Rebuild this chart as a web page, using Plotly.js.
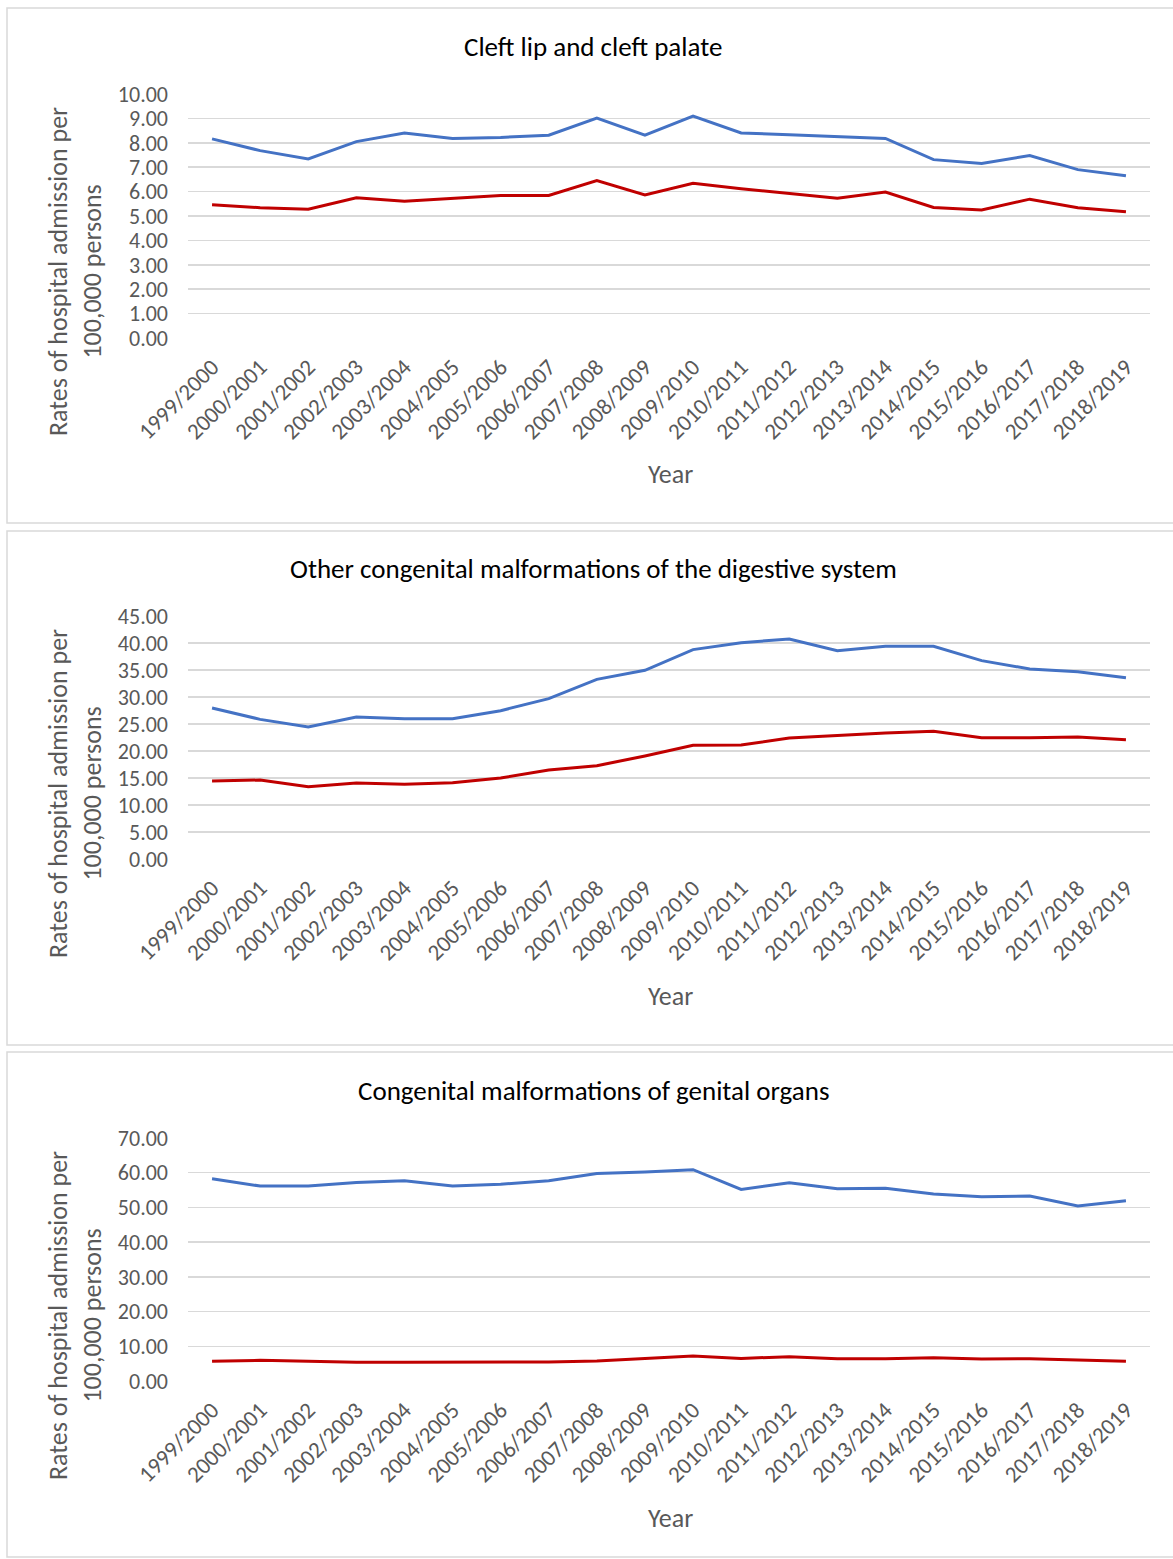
<!DOCTYPE html>
<html>
<head>
<meta charset="utf-8">
<script src="https://cdn.plot.ly/plotly-3.0.1.min.js"></script>
<style>
  html, body { margin: 0; padding: 0; background: #fff; }
  #chart { width: 1173px; height: 1559px; }
</style>
</head>
<body>
<div id="chart"></div>
<script>
// Financial years on the category axis
const years = [
  "1999/2000", "2000/2001", "2001/2002", "2002/2003", "2003/2004",
  "2004/2005", "2005/2006", "2006/2007", "2007/2008", "2008/2009",
  "2009/2010", "2010/2011", "2011/2012", "2012/2013", "2013/2014",
  "2014/2015", "2015/2016", "2016/2017", "2017/2018", "2018/2019"
];

// Panel titles
const panelTitles = [
  "Cleft lip and cleft palate",
  "Other congenital malformations of the digestive system",
  "Congenital malformations of genital organs"
];

// Admission rates per 100,000 persons
const cleftBlue = [8.16, 7.68, 7.34, 8.05, 8.40, 8.18, 8.22, 8.31, 9.01, 8.31,
                   9.09, 8.40, 8.33, 8.25, 8.18, 7.31, 7.15, 7.48, 6.90, 6.65];
const cleftRed  = [5.46, 5.34, 5.28, 5.75, 5.60, 5.71, 5.84, 5.84, 6.45, 5.86,
                   6.34, 6.12, 5.93, 5.73, 5.98, 5.35, 5.25, 5.69, 5.34, 5.17];

const digestiveBlue = [27.96, 25.86, 24.44, 26.30, 25.99, 25.99, 27.47, 29.69, 33.27, 34.94,
                       38.77, 40.06, 40.74, 38.58, 39.38, 39.38, 36.73, 35.19, 34.69, 33.58];
const digestiveRed  = [14.44, 14.63, 13.40, 14.07, 13.83, 14.14, 15.00, 16.48, 17.28, 19.07,
                       21.05, 21.11, 22.41, 22.90, 23.33, 23.64, 22.47, 22.47, 22.59, 22.10];

const genitalBlue = [58.27, 56.15, 56.15, 57.20, 57.70, 56.15, 56.70, 57.70, 59.80, 60.20,
                     60.87, 55.20, 57.10, 55.40, 55.50, 53.85, 53.10, 53.30, 50.40, 51.90];
const genitalRed  = [5.67, 5.96, 5.67, 5.38, 5.38, 5.38, 5.58, 5.48, 5.77, 6.44,
                     7.20, 6.50, 7.00, 6.44, 6.44, 6.70, 6.35, 6.44, 6.15, 5.67];

// Value-axis settings per panel
const yMax  = [10, 45, 70];
const yStep = [1, 5, 10];

const W = 1173, H = 1559;
const px = x => x / W;
const py = y => 1 - y / H;

const BLUE = "#4472C4";
const RED = "#C00000";
const GREY_TEXT = "#595959";
const FONT = "Carlito, Lato, 'Liberation Sans', sans-serif";

// Pixel geometry of the three stacked panels
const panels = [
  { boxTop: 8,    boxBottom: 523,  plotTop: 94,   plotBottom: 338,  title: 46,   year: 474,  ymid: 272 },
  { boxTop: 531,  boxBottom: 1045, plotTop: 616,  plotBottom: 859,  title: 568,  year: 996,  ymid: 794 },
  { boxTop: 1052, boxBottom: 1557, plotTop: 1138, plotBottom: 1381, title: 1090, year: 1518, ymid: 1316 }
];
const plotLeft = 188, plotRight = 1150;

const seriesSets = [
  [cleftBlue, cleftRed],
  [digestiveBlue, digestiveRed],
  [genitalBlue, genitalRed]
];

const data = [];
const layout = {
  width: W, height: H,
  margin: { l: 0, r: 0, t: 0, b: 0 },
  paper_bgcolor: "#fff",
  plot_bgcolor: "#fff",
  showlegend: false,
  font: { family: FONT, color: GREY_TEXT, size: 22 },
  shapes: [],
  annotations: []
};

panels.forEach((p, i) => {
  const n = i + 1;
  const xa = n === 1 ? "x" : "x" + n;
  const ya = n === 1 ? "y" : "y" + n;
  const [blue, red] = seriesSets[i];

  data.push({ x: years, y: blue, xaxis: xa, yaxis: ya, type: "scatter", mode: "lines",
              line: { color: BLUE, width: 3 }, hoverinfo: "skip" });
  data.push({ x: years, y: red, xaxis: xa, yaxis: ya, type: "scatter", mode: "lines",
              line: { color: RED, width: 3 }, hoverinfo: "skip" });

  const xKey = n === 1 ? "xaxis" : "xaxis" + n;
  const yKey = n === 1 ? "yaxis" : "yaxis" + n;

  layout[xKey] = {
    domain: [px(plotLeft), px(plotRight)],
    anchor: ya,
    type: "category",
    range: [-0.5, years.length - 0.5],
    showgrid: false,
    zeroline: false,
    showline: false,
    ticks: "",
    tickangle: -45,
    ticklabelstandoff: 10,
    tickfont: { family: FONT, size: 23, color: GREY_TEXT },
    fixedrange: true
  };
  layout[yKey] = {
    domain: [py(p.plotBottom), py(p.plotTop)],
    anchor: xa,
    range: [0, yMax[i]],
    dtick: yStep[i],
    tick0: 0,
    tickformat: ".2f",
    showgrid: true,
    gridcolor: "#D9D9D9",
    gridwidth: 1.5,
    zeroline: false,
    showline: false,
    ticks: "",
    ticklabelstandoff: 19,
    tickfont: { family: FONT, size: 22, color: GREY_TEXT },
    fixedrange: true
  };

  // Panel frame
  layout.shapes.push({
    type: "rect", xref: "paper", yref: "paper",
    x0: px(7), x1: px(1185), y0: py(p.boxBottom), y1: py(p.boxTop),
    line: { color: "#D9D9D9", width: 1.5 }, fillcolor: "rgba(0,0,0,0)"
  });

  // Panel title
  layout.annotations.push({
    text: panelTitles[i], xref: "paper", yref: "paper",
    x: px(593), y: py(p.title), xanchor: "center", yanchor: "middle",
    showarrow: false, font: { family: FONT, size: 27, color: "#000" }
  });

  // Axis titles
  layout.annotations.push({
    text: "Year", xref: "paper", yref: "paper",
    x: px(670), y: py(p.year), xanchor: "center", yanchor: "middle",
    showarrow: false, font: { family: FONT, size: 26, color: GREY_TEXT }
  });
  layout.annotations.push({
    text: "Rates of hospital admission per<br>100,000 persons", xref: "paper", yref: "paper",
    x: px(75), y: py(p.ymid), xanchor: "center", yanchor: "middle", textangle: -90,
    showarrow: false, font: { family: FONT, size: 26, color: GREY_TEXT }
  });
});

Plotly.newPlot("chart", data, layout, { displayModeBar: false, staticPlot: true });
</script>
</body>
</html>
